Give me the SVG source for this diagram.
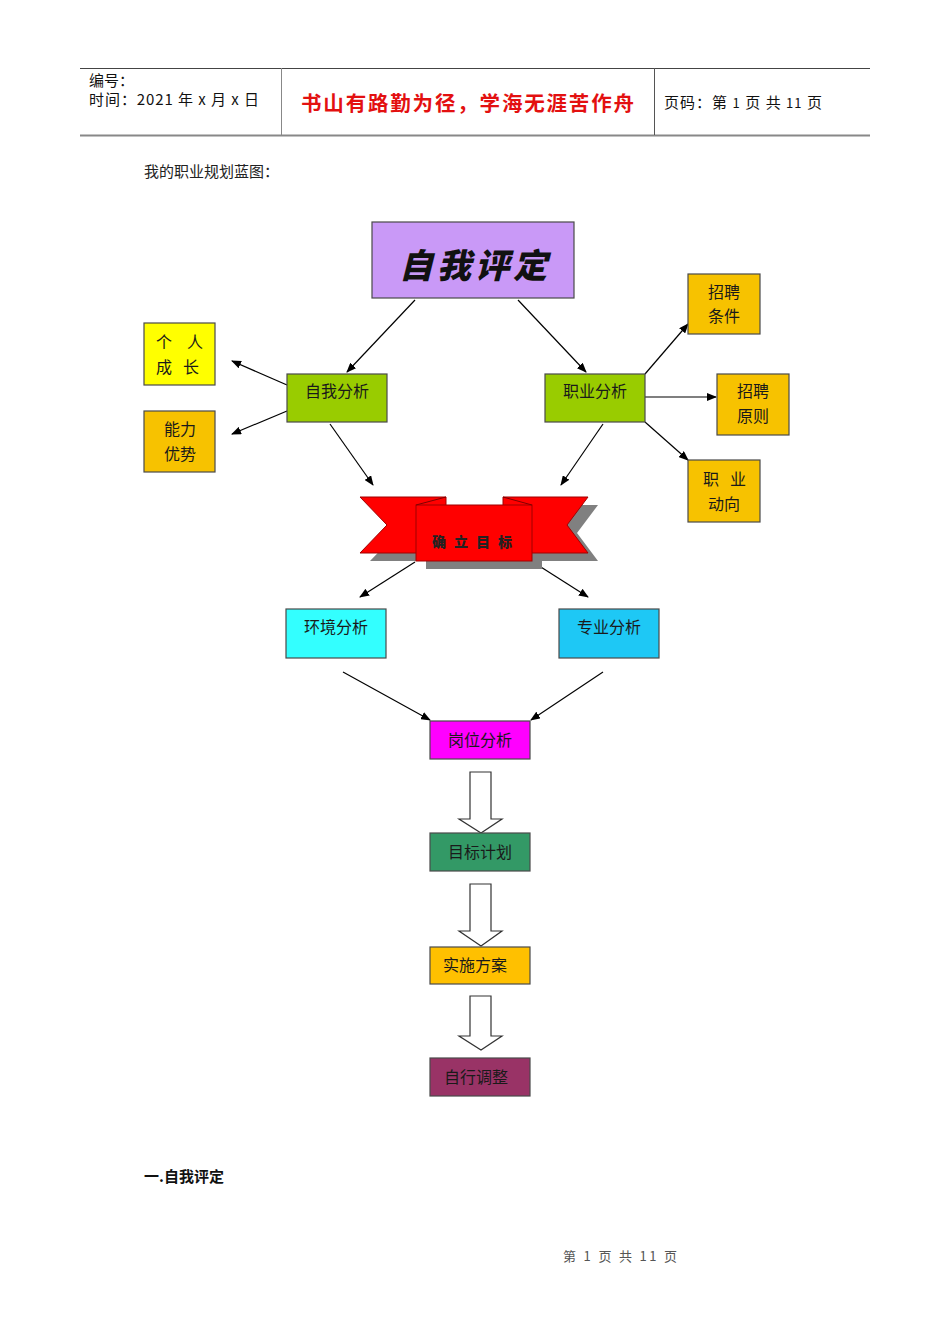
<svg xmlns="http://www.w3.org/2000/svg" width="950" height="1344" viewBox="0 0 950 1344">
<style>
.t{font-family:"Noto Sans CJK SC","Liberation Sans",sans-serif;}
.s{font-family:"Liberation Serif","Noto Sans CJK SC",serif;}
.box{stroke:#4a4a4a;stroke-width:1.2;}
.lbl{font-family:"Noto Sans CJK SC",sans-serif;font-size:16px;fill:#1a1a1a;text-anchor:middle;}
.con{stroke:#000;stroke-width:1.2;fill:none;marker-end:url(#ah);}
.blk{fill:#fff;stroke:#333;stroke-width:1.2;}
</style>
<defs>
<marker id="ah" markerWidth="10" markerHeight="8" refX="9" refY="4" orient="auto" markerUnits="userSpaceOnUse">
<path d="M0,0 L10,4 L0,8 Z" fill="#000"/>
</marker>
</defs>
<rect width="950" height="1344" fill="#fff"/>

<g id="header">
<line x1="80" y1="68.5" x2="870" y2="68.5" stroke="#444" stroke-width="1"/>
<line x1="80" y1="135.5" x2="870" y2="135.5" stroke="#888" stroke-width="2"/>
<line x1="281.5" y1="68" x2="281.5" y2="135" stroke="#888" stroke-width="1"/>
<line x1="654.5" y1="68" x2="654.5" y2="135" stroke="#555" stroke-width="1"/>
<text class="t" x="89" y="86" font-size="15" fill="#111">编号：</text>
<text class="t" x="89" y="105" font-size="15" fill="#111" textLength="170">时间：2021 年 x 月 x 日</text>
<text class="t" x="301" y="111" font-size="20.5" font-weight="bold" fill="#e31010" textLength="333">书山有路勤为径，学海无涯苦作舟</text>
<text class="t" x="664" y="108" font-size="15" fill="#111" textLength="158">页码：第 <tspan font-size="13">1</tspan> 页  共 <tspan font-size="13">11</tspan> 页</text>
</g>

<text class="s" x="144" y="177" font-size="15" fill="#222">我的职业规划蓝图：</text>

<g id="connectors">
<line class="con" x1="415" y1="300" x2="347" y2="372"/>
<line class="con" x1="518" y1="300" x2="586" y2="372"/>
<line class="con" x1="287" y1="385" x2="232" y2="361"/>
<line class="con" x1="287" y1="411" x2="232" y2="434"/>
<line class="con" x1="645" y1="374" x2="688" y2="324"/>
<line class="con" x1="645" y1="397" x2="716" y2="397"/>
<line class="con" x1="645" y1="422" x2="688" y2="460"/>
<line class="con" x1="330" y1="424" x2="373" y2="485"/>
<line class="con" x1="603" y1="424" x2="561" y2="485"/>
<line class="con" x1="415" y1="562" x2="360" y2="597"/>
<line class="con" x1="533" y1="562" x2="588" y2="597"/>
<line class="con" x1="343" y1="672" x2="430" y2="720"/>
<line class="con" x1="603" y1="672" x2="531" y2="720"/>
<path class="blk" d="M470,772 H491 V819 H502 L481,833 L459,819 H470 Z"/>
<path class="blk" d="M470,884 H491 V931 H502 L481,946 L459,931 H470 Z"/>
<path class="blk" d="M470,996 H491 V1036 H502 L481,1050 L459,1036 H470 Z"/>
</g>

<g id="n-zwpd">
<rect class="box" x="372" y="222" width="202" height="76" fill="#c999f7" stroke="#9966cc"/>
<text x="475" y="278" font-family="Noto Sans CJK SC,sans-serif" font-size="34" font-weight="900" fill="#111" text-anchor="middle" letter-spacing="4" font-style="italic">自我评定</text>
</g>

<g id="n-grcz">
<rect class="box" x="144" y="323" width="71" height="62" fill="#ffff00"/>
<text class="lbl" x="164" y="348">个</text><text class="lbl" x="195" y="348">人</text>
<text class="lbl" x="164" y="373">成</text><text class="lbl" x="191" y="373">长</text>
</g>
<g id="n-nlys">
<rect class="box" x="144" y="411" width="71" height="61" fill="#f7c200"/>
<text class="lbl" x="180" y="435">能力</text>
<text class="lbl" x="180" y="460">优势</text>
</g>
<g id="n-zwfx">
<rect class="box" x="287" y="374" width="100" height="48" fill="#99cc00"/>
<text class="lbl" x="337" y="397">自我分析</text>
</g>
<g id="n-zyfx">
<rect class="box" x="545" y="374" width="100" height="48" fill="#99cc00"/>
<text class="lbl" x="595" y="397">职业分析</text>
</g>
<g id="n-zptj">
<rect class="box" x="688" y="274" width="72" height="60" fill="#f7c200"/>
<text class="lbl" x="724" y="298">招聘</text>
<text class="lbl" x="724" y="322">条件</text>
</g>
<g id="n-zpyz">
<rect class="box" x="717" y="374" width="72" height="61" fill="#f7c200"/>
<text class="lbl" x="753" y="397">招聘</text>
<text class="lbl" x="753" y="422">原则</text>
</g>
<g id="n-zydx">
<rect class="box" x="688" y="460" width="72" height="62" fill="#f7c200"/>
<text class="lbl" x="711" y="485">职</text><text class="lbl" x="738" y="485">业</text>
<text class="lbl" x="724" y="510">动向</text>
</g>

<g id="n-qlmb">
<g fill="#808080" transform="translate(10,8)">
<polygon points="360,497 446,497 446,553 360,553 387,525"/>
<polygon points="503,497 588,497 567,525 588,553 503,553"/>
<rect x="416" y="505" width="116" height="56"/>
</g>
<polygon points="360,497 446,497 446,553 360,553 387,525" fill="#ff0000" stroke="#a00000" stroke-width="1"/>
<polygon points="503,497 588,497 567,525 588,553 503,553" fill="#ff0000" stroke="#a00000" stroke-width="1"/>
<rect x="416" y="505" width="116" height="56" fill="#ff0000" stroke="#a00000" stroke-width="1"/>
<line x1="416" y1="505" x2="446" y2="497" stroke="#800000" stroke-width="1"/>
<line x1="532" y1="505" x2="503" y2="497" stroke="#800000" stroke-width="1"/>
<text x="476" y="547" font-family="Noto Sans CJK SC,sans-serif" font-size="14" font-weight="900" fill="#222" text-anchor="middle" letter-spacing="8">确立目标</text>
</g>

<g id="n-hjfx">
<rect class="box" x="286" y="609" width="100" height="49" fill="#33ffff"/>
<text class="lbl" x="336" y="633">环境分析</text>
</g>
<g id="n-zyfx2">
<rect class="box" x="559" y="609" width="100" height="49" fill="#1ec8f5"/>
<text class="lbl" x="609" y="633">专业分析</text>
</g>
<g id="n-gwfx">
<rect class="box" x="430" y="721" width="100" height="38" fill="#ff00ff"/>
<text class="lbl" x="480" y="746" fill="#6a3a6a">岗位分析</text>
</g>
<g id="n-mbjh">
<rect class="box" x="430" y="833" width="100" height="38" fill="#339966"/>
<text class="lbl" x="480" y="858">目标计划</text>
</g>
<g id="n-ssfa">
<rect class="box" x="430" y="947" width="100" height="37" fill="#ffc000"/>
<text class="lbl" x="475" y="971">实施方案</text>
</g>
<g id="n-zxtz">
<rect class="box" x="430" y="1058" width="100" height="38" fill="#993366"/>
<text class="lbl" x="476" y="1083">自行调整</text>
</g>

<text class="t" x="144" y="1182" font-size="15" font-weight="bold" fill="#111">一.自我评定</text>
<text class="t" x="563" y="1261" font-size="13" fill="#555" textLength="114">第 1 页 共 11 页</text>
</svg>
